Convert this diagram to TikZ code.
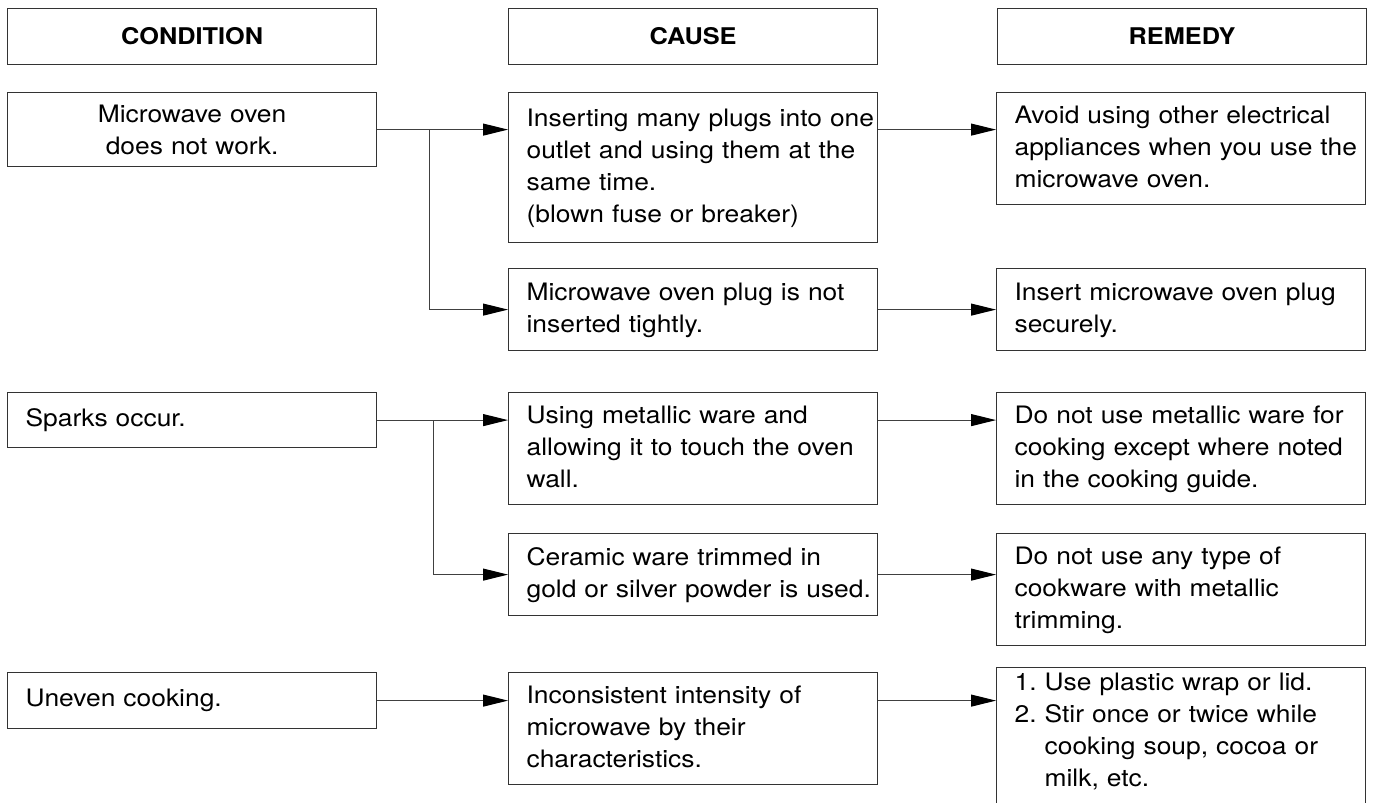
\documentclass[tikz,border=0pt]{standalone}
\usepackage{fontspec}
\setmainfont{TeX Gyre Heros}[FakeStretch=1.1]
\usetikzlibrary{arrows.meta}
\frenchspacing
\newcommand{\rows}[1]{\begin{tabular}[t]{@{}l@{}}#1\end{tabular}}

\begin{document}
\begin{tikzpicture}[x=1pt,y=-1pt,line width=1.2pt,
  box/.style={draw=black!80,rectangle,anchor=north west,minimum width=369pt,inner xsep=18pt,inner ysep=0pt,font=\fontsize{24}{32}\selectfont},
  hdr/.style={box,minimum height=56pt,font=\bfseries\fontsize{23}{28}\selectfont},
  cell/.style={box,text width=333pt,align=left},
  link/.style={draw=black!75,line width=1pt,-{Triangle[length=25pt,width=12pt,color=black]}}]
\useasboundingbox (0,0) rectangle (1376,803);
\clip (0,0) rectangle (1376,803);
\node[hdr] (hcond) at (7,8) {CONDITION};
\node[hdr] (hcause) at (508,8) {CAUSE};
\node[hdr] (hrem) at (997,8) {REMEDY};

\node[box,minimum height=74pt,text width=333pt,align=center] (cond1) at (7,92) {Microwave oven\\does not work.};
\node[cell,minimum height=150pt] (cause1) at (508,92) {\rows{Inserting many plugs into one\\outlet and using them at the\\same time.\\(blown fuse or breaker)}};
\node[cell,minimum height=82pt] (cause2) at (508,268) {\rows{Microwave oven plug is not\\inserted tightly.}};
\node[cell,minimum height=112pt] (rem1) at (996,92) {\rows{Avoid using other electrical\\appliances when you use the\\microwave oven.}};
\node[cell,minimum height=82pt] (rem2) at (996,268) {\rows{Insert microwave oven plug\\securely.}};

\node[cell,minimum height=55pt] (cond2) at (7,392) {Sparks occur.};
\node[cell,minimum height=112pt] (cause3) at (508,392) {\rows{Using metallic ware and\\allowing it to touch the oven\\wall.}};
\node[cell,minimum height=82pt] (cause4) at (508,533) {\rows{Ceramic ware trimmed in\\gold or silver powder is used.}};
\node[cell,minimum height=112pt] (rem3) at (996,392) {\rows{Do not use metallic ware for\\cooking except where noted\\in the cooking guide.}};
\node[cell,minimum height=112pt] (rem4) at (996,533) {\rows{Do not use any type of\\cookware with metallic\\trimming.}};

\node[cell,minimum height=56pt] (cond3) at (7,672) {Uneven cooking.};
\node[cell,minimum height=112pt] (cause5) at (508,672) {\rows{Inconsistent intensity of\\microwave by their\\characteristics.}};
\node[cell,text depth=130pt] (rem5) at (996,667) {\rows{1. Use plastic wrap or lid.\\2. Stir once or twice while\\\phantom{2. }cooking soup, cocoa or\\\phantom{2. }milk, etc.}};

\coordinate (b1) at ([xshift=52pt]cond1.east);
\coordinate (b2) at ([xshift=56pt]cond2.east);
\draw[link] (cond1.east) -- (cause1.west |- cond1.east);
\draw[link] (b1) |- (cause2.west);
\draw[link] (cause1.east |- cond1.east) -- (rem1.west |- cond1.east);
\draw[link] (cause2.east) -- (rem2.west);
\draw[link] (cond2.east) -- (cause3.west |- cond2.east);
\draw[link] (b2) |- (cause4.west);
\draw[link] (cause3.east |- cond2.east) -- (rem3.west |- cond2.east);
\draw[link] (cause4.east) -- (rem4.west |- cause4.east);
\draw[link] (cond3.east) -- (cause5.west |- cond3.east);
\draw[link] (cause5.east |- cond3.east) -- (rem5.west |- cond3.east);
\end{tikzpicture}
\end{document}
